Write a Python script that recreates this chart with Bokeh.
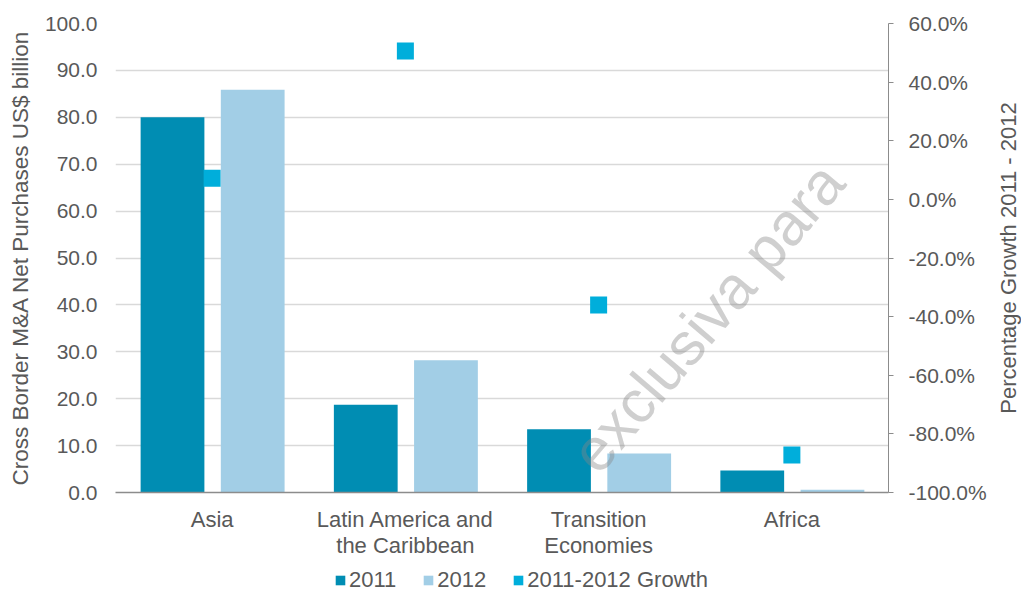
import math
from bokeh.plotting import figure
from bokeh.layouts import column, row
from bokeh.models import (Range1d, FactorRange, LinearAxis, FixedTicker, PrintfTickFormatter,
                          Legend, LegendItem, Label, ColumnDataSource)
from bokeh.transform import dodge
from bokeh.embed import file_html
from bokeh.resources import INLINE

categories = ["Asia", "Latin America and\nthe Caribbean", "Transition\nEconomies", "Africa"]
values_2011 = [80.0, 18.7, 13.5, 4.7]
values_2012 = [85.9, 28.2, 8.3, 0.6]
growth_pct = [7.2, 50.6, -36.0, -87.2]
series_names = ["2011", "2012", "2011-2012 Growth"]
left_ticks = [0, 10, 20, 30, 40, 50, 60, 70, 80, 90, 100]
right_ticks = [-100, -80, -60, -40, -20, 0, 20, 40, 60]

C2011 = "#008DB3"
C2012 = "#A2CEE6"
CGROW = "#00AEDB"
TXT = "#595959"
FONT = "Liberation Sans"

src = ColumnDataSource(dict(cat=categories, v11=values_2011, v12=values_2012, g=growth_pct))

p = figure(width=991, height=560, x_range=FactorRange(*categories, range_padding=0),
           y_range=Range1d(0, 100), output_backend="svg", toolbar_location=None,
           min_border_left=115, min_border_right=103, min_border_top=23, min_border_bottom=68)
p.extra_y_ranges = {"g": Range1d(-100, 60)}
p.outline_line_color = None
p.background_fill_color = "white"

r11 = p.vbar(x=dodge("cat", -0.205, range=p.x_range), top="v11", width=0.33, source=src,
             fill_color=C2011, line_color=None)
r12 = p.vbar(x=dodge("cat", 0.21, range=p.x_range), top="v12", width=0.33, source=src,
             fill_color=C2012, line_color=None)
rg = p.rect(x="cat", y="g", width=17, height=17, width_units="screen", height_units="screen",
            y_range_name="g", source=src, fill_color=CGROW, line_color=None)

# left axis
ya = p.yaxis[0]
ya.ticker = FixedTicker(ticks=left_ticks)
ya.formatter = PrintfTickFormatter(format="%.1f")
ya.axis_line_color = None
ya.major_tick_line_color = None
ya.minor_tick_line_color = None
ya.major_label_standoff = 12
ya.major_label_text_font = FONT
ya.major_label_text_font_size = "21px"
ya.major_label_text_color = TXT
ya.axis_label = "Cross Border M&A Net Purchases US$ billion"
ya.axis_label_text_font = FONT
ya.axis_label_text_font_size = "22.5px"
ya.axis_label_text_font_style = "normal"
ya.axis_label_text_color = TXT
ya.axis_label_standoff = 9

# right axis
ra = LinearAxis(y_range_name="g", ticker=FixedTicker(ticks=right_ticks),
                formatter=PrintfTickFormatter(format="%.1f%%"))
ra.axis_line_color = "#8C8C8C"
ra.major_tick_line_color = "#8C8C8C"
ra.major_tick_out = 5
ra.major_tick_in = 0
ra.minor_tick_line_color = None
ra.major_label_standoff = 15
ra.major_label_text_font = FONT
ra.major_label_text_font_size = "21px"
ra.major_label_text_color = TXT
p.add_layout(ra, "right")

# bottom axis
xa = p.xaxis[0]
xa.axis_line_color = "#8C8C8C"
xa.axis_line_width = 1.5
xa.major_tick_line_color = None
xa.minor_tick_line_color = None
xa.major_label_standoff = 8
xa.major_label_text_font = FONT
xa.major_label_text_font_size = "22px"
xa.major_label_text_color = TXT
xa.major_label_text_line_height = 1.05

p.xgrid.grid_line_color = None
p.ygrid.grid_line_color = "#D9D9D9"
p.ygrid.grid_line_width = 1.5
p.ygrid.ticker = FixedTicker(ticks=left_ticks)

# watermark (the part that lies inside the plot area)
p.add_layout(Label(x=468, y=29, x_units="screen", y_units="screen",
                   text="exclusiva para", angle=math.radians(49.6),
                   text_align="left", text_baseline="middle", text_font=FONT,
                   text_font_size="60px", text_color="#888888", text_alpha=0.4))

# legend strip
p2 = figure(width=991, height=33, x_range=Range1d(0, 1), y_range=Range1d(0, 1),
            output_backend="svg", toolbar_location=None, min_border=0,
            x_axis_location=None, y_axis_location=None)
p2.outline_line_color = None
p2.xgrid.grid_line_color = None
p2.ygrid.grid_line_color = None
nan = float("nan")
empty = ColumnDataSource(dict(x=[nan], y=[nan]))
l11 = p2.vbar(x="x", top="y", width=1, source=empty, fill_color=C2011, line_color=None)
l12 = p2.vbar(x="x", top="y", width=1, source=empty, fill_color=C2012, line_color=None)
lg = p2.rect(x="x", y="y", width=1, height=1, source=empty, fill_color=CGROW, line_color=None)
legend = Legend(items=[LegendItem(label=series_names[0], renderers=[l11]),
                       LegendItem(label=series_names[1], renderers=[l12]),
                       LegendItem(label=series_names[2], renderers=[lg])],
                orientation="horizontal", location=(219, 0), padding=0, margin=0,
                spacing=26, glyph_width=12, glyph_height=12, label_standoff=3,
                label_text_font=FONT, label_text_font_size="22px", label_text_color=TXT,
                border_line_color=None, background_fill_alpha=0)
p2.add_layout(legend, "center")

# right axis title strip (reads bottom to top)
pt = figure(width=30, height=593, x_range=Range1d(0, 1), y_range=Range1d(0, 1),
            output_backend="svg", toolbar_location=None,
            min_border_left=0, min_border_right=0, min_border_top=23, min_border_bottom=101,
            x_axis_location=None, y_axis_location=None)
pt.outline_line_color = None
pt.xgrid.grid_line_color = None
pt.ygrid.grid_line_color = None
pt.add_layout(Label(x=17, y=234.5, x_units="screen", y_units="screen",
                    text="Percentage Growth 2011 - 2012", angle=math.pi / 2,
                    text_align="center", text_baseline="middle", text_font=FONT,
                    text_font_size="22px", text_color=TXT))

layout = row(column(p, p2, spacing=0), pt, spacing=0)
open("out.html", "w").write(file_html(layout, INLINE))
